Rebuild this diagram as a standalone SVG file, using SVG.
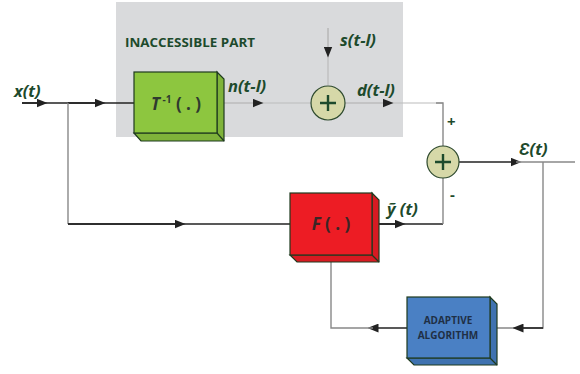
<svg xmlns="http://www.w3.org/2000/svg" width="580" height="374" viewBox="0 0 580 374">
<defs>
<style>
.lbl{font-family:"Open Sans","Liberation Sans",sans-serif;font-weight:bold;font-style:italic;fill:#1d4a2c;font-size:16.5px}
.sign{font-family:"Open Sans","Liberation Sans",sans-serif;font-weight:bold;fill:#1d4a2c;font-size:15px}
.blk{stroke:#1e3a1e;stroke-width:1.2;stroke-linejoin:miter}
.dark{stroke:#222;stroke-width:1.6;fill:none}
.gray{stroke:#888;stroke-width:1.4;fill:none}
.lite{stroke:#bbb;stroke-width:1.2;fill:none}
.sum{fill:#d6d8a8;stroke:#2e4a2e;stroke-width:1.2}
.plus{stroke:#1d4a2c;stroke-width:2.4}
.box{font-family:"Open Sans","Liberation Sans",sans-serif;font-weight:bold}
</style>
<marker id="ah" viewBox="0 0 10 8" refX="5" refY="4" markerWidth="11" markerHeight="9" markerUnits="userSpaceOnUse" orient="auto"><path d="M0,0 L10,4 L0,8 Z" fill="#222"/></marker>
</defs>
<rect x="0" y="0" width="580" height="374" fill="#fff"/>
<g id="inaccessible-region">
<rect x="116" y="2" width="287" height="135" fill="#d9dadc"/>
<text class="box" x="125" y="47" font-size="11.5" fill="#1d4a2c" textLength="130" lengthAdjust="spacingAndGlyphs">INACCESSIBLE PART</text>
</g>
<g id="connectors">
<path class="dark" d="M22,103 H134"/>
<path class="dark" d="M22,103 H42" marker-end="url(#ah)"/>
<path class="dark" d="M68,103 H100" marker-end="url(#ah)"/>
<path class="gray" d="M68,103 V224"/>
<path class="dark" d="M68,224 H290"/>
<path class="dark" d="M68,224 H180" marker-end="url(#ah)"/>
<path class="lite" d="M224,103 H311"/>
<path class="lite" d="M224,103 H258" marker-end="url(#ah)"/>
<path class="lite" d="M328,28 V85"/>
<path class="lite" d="M328,28 V52" marker-end="url(#ah)"/>
<path class="lite" d="M345,103 H443"/>
<path class="lite" d="M345,103 H388" marker-end="url(#ah)"/>
<path class="gray" d="M436,103 H443 V146"/>
<path class="dark" d="M379,224 H443"/>
<path class="dark" d="M379,224 H400" marker-end="url(#ah)"/>
<path class="gray" d="M443,224 V178"/>
<path class="dark" d="M459,162 H516" marker-end="url(#ah)"/>
<path class="gray" d="M516,162 H575"/>
<path class="gray" d="M543,162 V328 H497"/>
<path class="dark" d="M543,328 H518" marker-end="url(#ah)"/>
<path class="dark" d="M407,328 H373" marker-end="url(#ah)"/>
<path class="gray" d="M373,328 H331 V262"/>
</g>
<g id="T-inverse">
<path class="blk" fill="#7fb33a" d="M134,133 L141,141 H224 V79 L217,72 V133 Z"/>
<rect class="blk" x="134" y="72" width="83" height="61" fill="#8dc63f"/>
<path class="blk" fill="none" d="M217,133 L224,141"/>
<text class="box" x="176" y="110" text-anchor="middle" font-size="17" fill="#2f3a2f"><tspan font-style="italic">T</tspan><tspan font-size="10" dy="-7"> -1</tspan><tspan dy="7"> ( . )</tspan></text>
</g>
<g id="sum1">
<circle class="sum" cx="328" cy="103" r="17"/>
<path class="plus" d="M320,103 H336 M328,95 V111"/>
</g>
<g id="sum2">
<circle class="sum" cx="443" cy="162" r="16"/>
<path class="plus" d="M435,162 H451 M443,154 V170"/>
</g>
<g id="F-block">
<path class="blk" fill="#d81a22" d="M290,255 L297,262 H379 V200 L372,193 V255 Z"/>
<rect class="blk" x="290" y="193" width="82" height="62" fill="#ed1c24"/>
<path class="blk" fill="none" d="M372,255 L379,262"/>
<text class="box" x="331" y="230" text-anchor="middle" font-size="17" fill="#3a2626"><tspan font-style="italic">F</tspan> ( . )</text>
</g>
<g id="adaptive-algorithm">
<path class="blk" fill="#3f72b0" d="M407,358 L414,365 H497 V304 L490,297 V358 Z"/>
<rect class="blk" x="407" y="297" width="83" height="61" fill="#4a80c4"/>
<path class="blk" fill="none" d="M490,358 L497,365"/>
<text class="box" x="448" y="324" text-anchor="middle" font-size="10" fill="#1f2f45">ADAPTIVE</text>
<text class="box" x="448" y="339" text-anchor="middle" font-size="10" fill="#1f2f45">ALGORITHM</text>
</g>
<g id="labels">
<text class="lbl" x="14" y="97">x(t)</text>
<text class="lbl" x="228" y="92">n(t-l)</text>
<text class="lbl" x="340" y="46">s(t-l)</text>
<text class="lbl" x="357" y="96">d(t-l)</text>
<text class="lbl" x="387" y="215">ỹ (t)</text>
<text class="lbl" x="519" y="155">Ɛ(t)</text>
<text class="sign" x="447" y="127">+</text>
<text class="sign" x="450" y="200">-</text>
</g>
</svg>
